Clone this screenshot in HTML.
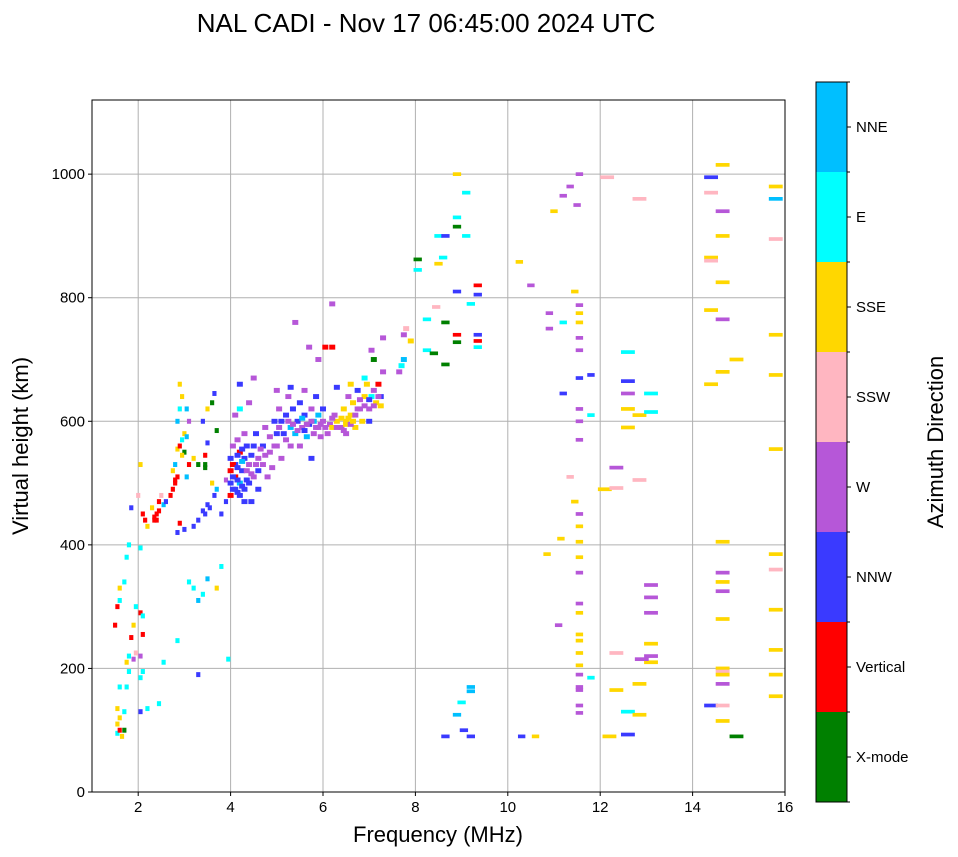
<!DOCTYPE html>
<html><head><meta charset="utf-8"><style>
body{margin:0;background:#fff;}
svg{display:block;font-family:"Liberation Sans",sans-serif;}
</style></head><body>
<svg id="c" width="958" height="857">
<text x="426" y="32" font-size="26" text-anchor="middle">NAL CADI - Nov 17 06:45:00 2024 UTC</text>
<g id="grid"></g><g id="marks"></g><g id="axes"></g><g id="cbar"></g>
<text x="438" y="842" font-size="22" text-anchor="middle">Frequency (MHz)</text>
<text transform="translate(28,446) rotate(-90)" font-size="22" text-anchor="middle">Virtual height (km)</text>
<text transform="translate(943,442) rotate(-90)" font-size="22" text-anchor="middle">Azimuth Direction</text>
</svg>
<script>
const dirLabels=["X-mode","Vertical","NNW","W","SSW","SSE","E","NNE"];
const dirColors=["#008000","#ff0000","#3a3aff","#b657d8","#ffb6c1","#ffd700","#00ffff","#00bfff"];
const xTicks=[2,4,6,8,10,12,14,16];
const yTicks=[0,200,400,600,800,1000];
const echoes=[
[1.55,95,6],[1.6,100,1],[1.55,110,5],[1.6,120,5],[1.55,135,5],[1.65,90,5],[1.7,100,0],[1.7,130,6],[1.75,170,6],[1.6,170,6],[1.8,195,6],[1.75,210,5],[1.8,220,6],[1.9,215,3],[1.95,225,4],[2.05,220,3],[2.05,185,6],[2.1,195,6],[2.05,130,2],[2.2,135,6],[2.45,143,6],[2.55,210,6],[2.85,245,6],[1.5,270,1],[1.55,300,1],[1.6,330,5],[1.7,340,6],[1.75,380,6],[1.6,310,6],[1.85,250,1],[1.9,270,5],[1.95,300,6],[2.05,290,1],[2.1,255,1],[2.1,285,6],[1.8,400,6],[1.85,460,2],[2.05,395,6],[2.05,530,5],[2,480,4],[2.1,450,1],[2.15,440,1],[2.2,430,5],[2.3,460,5],[2.35,440,1],[2.4,450,1],[2.45,455,1],[2.45,470,1],[2.5,480,4],[2.55,465,7],[2.6,470,2],[2.7,480,1],[2.75,490,1],[2.8,500,1],[2.85,510,1],[2.75,520,5],[2.8,530,7],[2.85,555,5],[2.9,560,1],[2.95,570,6],[3.0,580,5],[2.85,600,7],[2.9,620,6],[2.95,640,5],[2.9,660,5],[3.05,620,7],[3.1,600,3],[3.0,550,0],[3.1,530,1],[3.05,510,7],[3.2,540,5],[3.3,530,0],[3.45,525,0],[3.45,545,1],[3.5,565,2],[3.4,600,2],[3.5,620,5],[3.6,630,0],[3.65,645,2],[3.7,585,0],[3.6,500,5],[3.65,480,2],[3.7,490,7],[3.5,465,2],[3.4,455,2],[3.3,440,2],[3.2,430,2],[3.0,425,2],[2.85,420,2],[2.9,435,1],[3.1,340,6],[3.2,330,6],[3.3,310,7],[3.4,320,6],[3.5,345,7],[3.7,330,5],[3.8,365,6],[3.3,190,2],[3.95,215,6],[3.8,450,2],[3.9,470,2],[3.9,505,3],
[2.35,445,1],[2.4,440,1],[2.8,505,1],[2.95,545,5],[3.05,575,7],[3.45,530,0],[3.55,460,2],[3.45,450,2],
[4.0,480,1],[4.0,500,2],[4.0,520,1],[4.0,540,2],[4.05,560,3],[4.1,490,2],[4.1,510,1],[4.1,530,2],[4.15,570,3],[4.2,480,2],[4.2,500,7],[4.2,550,1],[4.25,520,2],[4.3,490,2],[4.3,540,2],[4.3,580,3],[4.35,560,2],[4.4,500,2],[4.4,530,3],[4.45,545,2],[4.5,510,3],[4.5,560,2],[4.55,580,2],[4.6,520,2],[4.6,540,3],[4.7,530,3],[4.7,560,2],[4.75,590,3],[4.8,510,3],[4.85,550,3],[4.9,525,3],[4.95,600,2],[4.2,620,6],[4.2,660,2],[4.5,670,3],[4.1,610,3],[4.4,630,3],[4.6,490,2],[4.3,470,2],[4.45,470,2],
[4.05,490,2],[4.05,510,2],[4.05,530,1],[4.15,485,2],[4.15,505,2],[4.15,525,2],[4.15,545,2],[4.25,495,2],[4.25,535,7],[4.25,555,2],[4.35,505,2],[4.35,520,3],[4.45,515,3],[4.55,530,3],[4.65,555,3],[4.75,545,3],[4.85,575,3],[4.95,560,3],
[5.0,560,3],[5.0,580,2],[5.05,620,3],[5.1,540,3],[5.1,600,2],[5.2,570,3],[5.2,610,2],[5.25,640,3],[5.3,590,7],[5.3,560,3],[5.35,620,2],[5.4,580,7],[5.45,600,2],[5.5,560,3],[5.5,630,2],[5.55,590,3],[5.6,610,2],[5.6,650,3],[5.65,575,7],[5.7,595,2],[5.75,620,3],[5.8,580,3],[5.8,600,7],[5.85,640,2],[5.9,590,3],[5.95,575,3],[6.0,600,3],[6.0,620,2],[5.4,760,3],[5.7,720,3],[5.9,700,3],[6.05,720,1],[6.2,720,1],[6.2,790,3],[5.3,655,2],[5.0,650,3],[5.75,540,2],
[5.05,590,3],[5.15,580,2],[5.25,600,3],[5.35,595,3],[5.45,585,3],[5.55,605,7],[5.65,595,3],[5.75,600,3],[5.85,590,3],[5.95,595,3],[6.05,590,3],[6.15,595,3],[5.9,610,7],[5.6,585,2],
[6.1,580,3],[6.2,590,5],[6.25,610,3],[6.3,600,5],[6.4,590,3],[6.45,620,5],[6.5,600,5],[6.5,580,3],[6.55,640,3],[6.6,610,5],[6.65,630,5],[6.7,590,5],[6.75,650,2],[6.8,620,3],[6.85,600,5],[6.9,640,5],[6.95,660,5],[7.0,620,3],[7.0,600,2],[7.05,640,6],[7.1,650,3],[7.15,630,5],[7.2,660,1],[7.25,640,2],[7.3,680,3],[7.1,700,0],[7.05,715,3],[7.3,735,3],[6.6,660,5],[6.9,670,6],[6.3,655,2],[7.7,690,6],[7.75,700,7],[7.75,740,3],[7.8,750,4],[7.9,730,5],[7.65,680,3],
[6.2,605,3],[6.3,590,3],[6.4,605,5],[6.5,595,5],[6.55,605,5],[6.6,595,3],[6.7,610,3],[6.75,620,3],[6.8,635,3],[6.9,625,3],[7.0,635,2],[7.1,625,3],[7.2,640,3],[7.25,625,5],[6.45,585,3],[6.65,600,5],
[8.05,862,0],[8.05,845,6],[8.25,765,6],[8.25,715,6],[8.4,710,0],[8.45,785,4],[8.5,855,5],[8.5,900,6],[8.6,865,6],[8.65,900,2],[8.65,760,0],[8.65,692,0],[8.9,1000,5],[8.9,930,6],[8.9,915,0],[8.9,810,2],[8.9,740,1],[8.9,728,0],[9.1,970,6],[9.1,900,6],[9.2,790,6],[9.35,820,1],[9.35,805,2],[9.35,740,2],[9.35,730,1],[9.35,720,6],[9.2,170,7],[9.2,163,7],[9.0,145,6],[8.9,125,7],[9.05,100,2],[9.2,90,2],[8.65,90,2],
[10.25,858,5],[10.5,820,3],[10.9,775,3],[10.9,750,3],[11.0,940,5],[11.2,965,3],[11.35,980,3],[11.55,1000,3],[11.5,950,3],[11.2,760,6],[11.45,810,5],[11.55,788,3],[11.55,775,5],[11.55,760,5],[11.55,735,3],[11.55,715,3],[11.55,670,2],[11.2,645,2],[11.55,620,3],[11.55,600,3],[11.55,570,3],[11.35,510,4],[11.45,470,5],[11.55,450,3],[11.55,430,5],[11.55,405,5],[11.15,410,5],[10.85,385,5],[11.55,380,5],[11.55,355,3],[11.55,305,3],[11.55,290,5],[11.55,255,5],[11.55,245,5],[11.55,225,5],[11.55,205,5],[11.55,190,3],[11.55,170,3],[11.55,165,3],[11.55,140,3],[11.55,128,3],[11.8,185,6],[11.8,675,2],[11.8,610,6],[11.1,270,3],[10.3,90,2],[10.6,90,5],[12.15,995,4],[12.1,490,5],[12.35,525,3],[12.35,492,4],[12.35,225,4],[12.35,165,5],[12.6,712,6],[12.6,665,2],[12.6,645,3],[12.6,620,5],[12.6,590,5],[12.6,130,6],[12.6,93,2],[12.2,90,5],[12.85,960,4],[12.85,610,5],[12.85,505,4],[12.85,175,5],[12.85,125,5],[13.1,645,6],[13.1,615,6],[13.1,335,3],[13.1,315,3],[13.1,290,3],[13.1,240,5],[13.1,220,3],[13.1,210,5],[12.9,215,3],
[14.4,995,2],[14.4,970,4],[14.4,865,5],[14.4,860,4],[14.4,780,5],[14.4,660,5],[14.4,140,2],[14.65,1015,5],[14.65,940,3],[14.65,900,5],[14.65,825,5],[14.65,765,3],[14.65,680,5],[14.65,405,5],[14.65,355,3],[14.65,340,5],[14.65,325,3],[14.65,280,5],[14.65,200,5],[14.65,195,4],[14.65,190,5],[14.65,175,3],[14.65,140,4],[14.65,115,5],[14.95,700,5],[14.95,90,0],[15.8,980,5],[15.8,960,7],[15.8,895,4],[15.8,740,5],[15.8,675,5],[15.8,555,5],[15.8,385,5],[15.8,360,4],[15.8,295,5],[15.8,230,5],[15.8,190,5],[15.8,155,5]
];
const NS="http://www.w3.org/2000/svg";
const L=92,R=785,T=100,B=792,xmin=1,xmax=16,ymin=0,ymax=1120;
const X=f=>L+(f-xmin)/(xmax-xmin)*(R-L);
const Y=h=>B-(h-ymin)/(ymax-ymin)*(B-T);
function mk(tag,at,parent){const e=document.createElementNS(NS,tag);for(const k in at)e.setAttribute(k,at[k]);document.getElementById(parent).appendChild(e);return e;}
xTicks.forEach(t=>{const l=mk('line',{x1:X(t),x2:X(t),y1:T,y2:B,stroke:'#b0b0b0','stroke-width':1},'grid');

});
yTicks.forEach(t=>{const l=mk('line',{x1:L,x2:R,y1:Y(t),y2:Y(t),stroke:'#b0b0b0','stroke-width':1},'grid');

});
echoes.forEach(p=>{const f=p[0],h=p[1],d=p[2];
const w=f<4?0.09:f<8?0.13:f<10?0.18:f<12?0.16:0.3;
const hh=f<8?4:3;
const r=mk('rect',{x:X(f-w/2),y:Y(h+hh),width:X(f+w/2)-X(f-w/2),height:Y(h-hh)-Y(h+hh),fill:dirColors[d]},'marks');

});
const fr=mk('rect',{x:L,y:T,width:R-L,height:B-T,fill:'none',stroke:'#000','stroke-width':1},'axes');


xTicks.forEach(t=>{mk('line',{x1:X(t),x2:X(t),y1:B,y2:B+4,stroke:'#000'},'axes');
const tx=mk('text',{x:X(t),y:B+20,'font-size':15,'text-anchor':'middle'},'axes');tx.textContent=t;

});
yTicks.forEach(t=>{mk('line',{x1:L-4,x2:L,y1:Y(t),y2:Y(t),stroke:'#000'},'axes');
const tx=mk('text',{x:L-7,y:Y(t)+5,'font-size':15,'text-anchor':'end'},'axes');tx.textContent=t;

});
const cx=816,cw=31,ct=82,cb=802,seg=(cb-ct)/dirLabels.length;
dirLabels.forEach((lab,i)=>{const y0=cb-(i+1)*seg;
const r=mk('rect',{x:cx,y:y0,width:cw,height:seg,fill:dirColors[i]},'cbar');


mk('line',{x1:cx+cw,x2:cx+cw+4,y1:y0+seg/2,y2:y0+seg/2,stroke:'#000'},'cbar');
const tx=mk('text',{x:cx+cw+9,y:y0+seg/2+5,'font-size':15},'cbar');tx.textContent=lab;

});
for(let i=0;i<=dirLabels.length;i++){mk('line',{x1:cx+cw,x2:cx+cw+3,y1:ct+i*seg,y2:ct+i*seg,stroke:'#000'},'cbar');}
const cf=mk('rect',{x:cx,y:ct,width:cw,height:cb-ct,fill:'none',stroke:'#000'},'cbar');


</script>
</body></html>
